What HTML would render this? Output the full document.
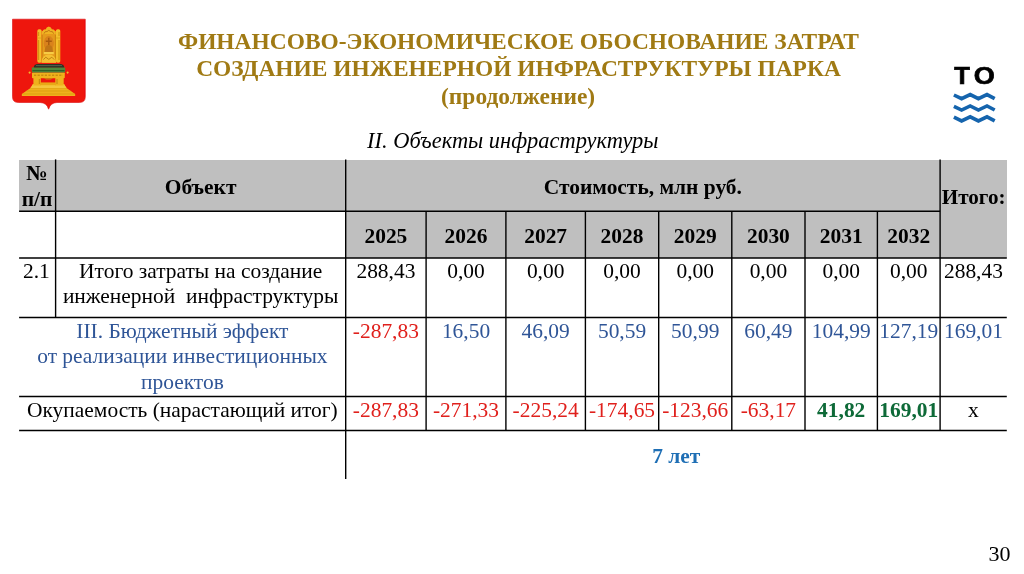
<!DOCTYPE html>
<html lang="ru">
<head>
<meta charset="utf-8">
<title>Финансово-экономическое обоснование затрат</title>
<style>
html,body{margin:0;padding:0;background:#fff;}
body{width:1024px;height:574px;overflow:hidden;position:relative;font-family:"Liberation Serif","Times New Roman",serif;color:#000;}
.abs{position:absolute;}
.title{position:absolute;left:0;width:1037px;text-align:center;font-weight:bold;color:#a07a14;font-size:23.45px;line-height:27.3px;white-space:nowrap;}
.sub{position:absolute;left:0;width:1025.5px;text-align:center;font-style:italic;font-size:22.43px;line-height:26px;white-space:nowrap;}
.g{position:absolute;background:#bfbfbf;}
.c{position:absolute;text-align:center;font-size:21.45px;line-height:25.6px;white-space:nowrap;}
.b{font-weight:bold;}
.red{color:#e0201c;}
.blue{color:#2f5597;}
.green{color:#0e6a38;}
</style>
</head>
<body>
<div class="title" style="top:27.8px">ФИНАНСОВО-ЭКОНОМИЧЕСКОЕ ОБОСНОВАНИЕ ЗАТРАТ</div>
<div class="title" style="top:54.8px">СОЗДАНИЕ ИНЖЕНЕРНОЙ ИНФРАСТРУКТУРЫ ПАРКА</div>
<div class="title" style="top:83.3px;left:-0.4px">(продолжение)</div>
<div class="sub" style="top:127.8px">II. Объекты инфраструктуры</div>
<svg class="abs" style="left:0;top:0" width="100" height="120" viewBox="0 0 100 120">
<defs><filter id="sb" x="-5%" y="-5%" width="110%" height="110%"><feGaussianBlur stdDeviation="0.35"/></filter></defs>
<g filter="url(#sb)">
<!-- shield -->
<path d="M12.5 19.2 H85.3 V96.8 Q85.3 102.5 79.5 102.5 H57 Q50.5 102.7 48.6 109.2 Q46.8 102.7 40 102.5 H18.3 Q12.5 102.5 12.5 96.8 Z" fill="#ee1208" stroke="#dc1410" stroke-width="0.6"/>
<!-- base -->
<path d="M33 84 H64 L66.5 88 L75.2 94 V96 H21.8 V94 L30.5 88 Z" fill="#efb21c"/>
<path d="M30.5 88 H66.5 M26.5 91 H70.5 M22.5 94 H74.8" stroke="#d69a14" stroke-width="0.7" fill="none"/>
<path d="M33 84 H64 L66.5 88 H30.5 Z" fill="#f4c63a"/>
<!-- legs -->
<rect x="33.4" y="77.5" width="7.4" height="8" fill="#efb21c"/>
<rect x="55.3" y="77.5" width="8.4" height="8" fill="#efb21c"/>
<rect x="40" y="82.4" width="16" height="2.8" fill="#e9a818"/>
<rect x="38.8" y="79" width="1.2" height="5" fill="#c98d10"/>
<rect x="56.4" y="79" width="1.2" height="5" fill="#c98d10"/>
<!-- seat rail -->
<rect x="32" y="72.4" width="32.8" height="5.8" rx="0.8" fill="#efb21c"/>
<path d="M34 75.3 H63" stroke="#c98d10" stroke-width="1.6" stroke-dasharray="2.2 1.4" fill="none"/>
<path d="M44 78.2 H53 L51 79.6 H46 Z" fill="#c98d10"/>
<!-- cushion -->
<rect x="31.8" y="67.2" width="33.4" height="5.4" rx="1" fill="#4f8a3c"/>
<path d="M32.5 70.6 H64.5" stroke="#2f5f2a" stroke-width="1.2"/>
<path d="M33.8 67.6 Q33.8 63.9 38 63.9 H60 Q64.2 63.9 64.2 67.6 Z" fill="#2c3426"/>
<path d="M36 65.6 H62" stroke="#5f6f5a" stroke-width="0.8"/>
<!-- tassels -->
<circle cx="29.6" cy="72.6" r="1.1" fill="#f0b830"/>
<circle cx="67.6" cy="72.6" r="1.1" fill="#f0b830"/>
<!-- back -->
<rect x="37.3" y="29.3" width="4.4" height="33.4" rx="1.6" fill="#f3bd2a"/>
<rect x="55.9" y="29.3" width="4.4" height="33.4" rx="1.6" fill="#f3bd2a"/>
<rect x="41.7" y="31" width="14.2" height="31.8" fill="#e59a1c"/>
<path d="M41.7 34 Q42.4 29 45.6 29.4 Q46.2 26.8 48.8 26.4 Q51.4 26.8 52 29.4 Q55.2 29 55.9 34 Z" fill="#f0b224"/>
<path d="M44 33.6 Q45 30.6 47 31.6 Q48.8 29 50.6 31.6 Q52.6 30.6 53.6 33.6" stroke="#c07a12" stroke-width="1" fill="none"/>
<path d="M38.6 32 V36 M59 32 V36 M38.6 40 V60 M59 40 V60" stroke="#c98d10" stroke-width="0.9"/>
<path d="M37.5 38 H41.5 M56.1 38 H60.1" stroke="#d8a018" stroke-width="0.8"/>
<path d="M42.2 35 V62 M55.4 35 V62" stroke="#c8820f" stroke-width="0.9" fill="none"/>
<ellipse cx="48.8" cy="43.5" rx="5" ry="7.5" fill="#d9821a"/>
<!-- cross and cap on back -->
<path d="M48.8 37.8 V45 M45.8 41.2 H51.8" stroke="#a85a10" stroke-width="1.4" fill="none"/>
<path d="M44.6 52.4 Q44.6 45 48.8 45 Q53 45 53 52.4 Z" fill="#c07414"/>
<rect x="43.8" y="52" width="10" height="2.2" fill="#f6cc44"/>
<path d="M41.4 62.8 Q41.8 54.6 48.8 54.6 Q55.8 54.6 56.2 62.8 Z" fill="#f4bf30"/>
<path d="M43.4 59.6 L45.8 57.2 L48.8 59.4 L51.8 57.2 L54.2 59.6" stroke="#b87a12" stroke-width="0.9" fill="none"/>
</g>
</svg>

<svg class="abs" style="left:940px;top:55px" width="70" height="75" viewBox="940 55 70 75">
<g font-family="'Liberation Sans',Arial,sans-serif" font-weight="bold" font-size="24" fill="#000" stroke="#000" stroke-width="0.7" stroke-linejoin="miter">
<text x="954.3" y="84.3" textLength="15.6" lengthAdjust="spacingAndGlyphs">T</text>
<text x="973.8" y="84.3" textLength="21" lengthAdjust="spacingAndGlyphs">O</text>
</g>
<g fill="none" stroke="#1564ad" stroke-width="3.6" stroke-linejoin="miter" stroke-miterlimit="6">
<path d="M953.9 95 L961.6 98.7 L970.2 94.6 L978.4 98.7 L987 94.6 L994.7 98.7"/>
<path d="M953.9 106.3 L961.6 110 L970.2 105.9 L978.4 110 L987 105.9 L994.7 110"/>
<path d="M953.9 117.2 L961.6 120.9 L970.2 116.8 L978.4 120.9 L987 116.8 L994.7 120.9"/>
</g>
</svg>

<div class="g" style="left:19px;top:160px;width:988px;height:52px"></div>
<div class="g" style="left:346px;top:211px;width:661px;height:47px"></div>
<svg class="abs" style="left:0;top:0" width="1024" height="574" viewBox="0 0 1024 574">
<g stroke="#000" stroke-width="1.5" fill="none">
<line x1="19.1" y1="211.3" x2="940.1" y2="211.3"/>
<line x1="19.1" y1="257.9" x2="1006.8" y2="257.9"/>
<line x1="19.1" y1="317.6" x2="1006.8" y2="317.6"/>
<line x1="19.1" y1="396.4" x2="1006.8" y2="396.4"/>
<line x1="19.1" y1="430.4" x2="1006.8" y2="430.4"/>
</g><g stroke="#000" stroke-width="1.4" fill="none">
<line x1="55.6" y1="159.4" x2="55.6" y2="317.6"/>
<line x1="345.7" y1="159.4" x2="345.7" y2="479.1"/>
<line x1="426.1" y1="211.3" x2="426.1" y2="430.4"/>
<line x1="505.9" y1="211.3" x2="505.9" y2="430.4"/>
<line x1="585.4" y1="211.3" x2="585.4" y2="430.4"/>
<line x1="658.7" y1="211.3" x2="658.7" y2="430.4"/>
<line x1="731.8" y1="211.3" x2="731.8" y2="430.4"/>
<line x1="805.0" y1="211.3" x2="805.0" y2="430.4"/>
<line x1="877.4" y1="211.3" x2="877.4" y2="430.4"/>
<line x1="940.1" y1="159.4" x2="940.1" y2="430.4"/>
</g></svg>
<div class="c b" style="left:18.8px;width:36.5px;top:161.0px">№<br>п/п</div>
<div class="c b" style="left:55.6px;width:290.1px;top:174.8px">Объект</div>
<div class="c b" style="left:345.7px;width:594.4px;top:174.8px">Стоимость, млн руб.</div>
<div class="c b" style="left:940.3px;width:66.7px;top:184.9px;font-size:21.1px">Итого:</div>
<div class="c b" style="left:345.7px;width:80.4px;top:223.70000000000002px">2025</div>
<div class="c b" style="left:426.1px;width:79.8px;top:223.70000000000002px">2026</div>
<div class="c b" style="left:505.9px;width:79.5px;top:223.70000000000002px">2027</div>
<div class="c b" style="left:585.4px;width:73.3px;top:223.70000000000002px">2028</div>
<div class="c b" style="left:658.7px;width:73.1px;top:223.70000000000002px">2029</div>
<div class="c b" style="left:731.8px;width:73.2px;top:223.70000000000002px">2030</div>
<div class="c b" style="left:805.0px;width:72.4px;top:223.70000000000002px">2031</div>
<div class="c b" style="left:877.4px;width:62.7px;top:223.70000000000002px">2032</div>
<div class="c " style="left:18.2px;width:36.5px;top:258.6px">2.1</div>
<div class="c " style="left:55.6px;width:290.1px;top:258.6px">Итого затраты на создание<br>инженерной&nbsp; инфраструктуры</div>
<div class="c " style="left:345.7px;width:80.4px;top:258.6px">288,43</div>
<div class="c " style="left:426.1px;width:79.8px;top:258.6px">0,00</div>
<div class="c " style="left:505.9px;width:79.5px;top:258.6px">0,00</div>
<div class="c " style="left:585.4px;width:73.3px;top:258.6px">0,00</div>
<div class="c " style="left:658.7px;width:73.1px;top:258.6px">0,00</div>
<div class="c " style="left:731.8px;width:73.2px;top:258.6px">0,00</div>
<div class="c " style="left:805.0px;width:72.4px;top:258.6px">0,00</div>
<div class="c " style="left:877.4px;width:62.7px;top:258.6px">0,00</div>
<div class="c " style="left:940.1px;width:66.7px;top:258.6px">288,43</div>
<div class="c blue" style="left:19.1px;width:326.6px;top:318.6px">III. Бюджетный эффект<br>от реализации инвестиционных<br>проектов</div>
<div class="c red" style="left:345.7px;width:80.4px;top:318.6px">-287,83</div>
<div class="c blue" style="left:426.1px;width:79.8px;top:318.6px">16,50</div>
<div class="c blue" style="left:505.9px;width:79.5px;top:318.6px">46,09</div>
<div class="c blue" style="left:585.4px;width:73.3px;top:318.6px">50,59</div>
<div class="c blue" style="left:658.7px;width:73.1px;top:318.6px">50,99</div>
<div class="c blue" style="left:731.8px;width:73.2px;top:318.6px">60,49</div>
<div class="c blue" style="left:805.0px;width:72.4px;top:318.6px">104,99</div>
<div class="c blue" style="left:877.4px;width:62.7px;top:318.6px">127,19</div>
<div class="c blue" style="left:940.1px;width:66.7px;top:318.6px">169,01</div>
<div class="c " style="left:19.1px;width:326.6px;top:397.6px">Окупаемость (нарастающий итог)</div>
<div class="c red" style="left:345.7px;width:80.4px;top:397.6px">-287,83</div>
<div class="c red" style="left:426.1px;width:79.8px;top:397.6px">-271,33</div>
<div class="c red" style="left:505.9px;width:79.5px;top:397.6px">-225,24</div>
<div class="c red" style="left:585.4px;width:73.3px;top:397.6px">-174,65</div>
<div class="c red" style="left:658.7px;width:73.1px;top:397.6px">-123,66</div>
<div class="c red" style="left:731.8px;width:73.2px;top:397.6px">-63,17</div>
<div class="c green b" style="left:805.0px;width:72.4px;top:397.6px">41,82</div>
<div class="c green b" style="left:877.4px;width:62.7px;top:397.6px">169,01</div>
<div class="c " style="left:940.1px;width:66.7px;top:397.6px">x</div>
<div class="c b" style="left:345.7px;width:661.1px;top:443.8px;color:#1f6fb5">7 лет</div>
<div class="c" style="left:981.6px;width:36px;top:541.3px;font-size:22px">30</div>
</body>
</html>
